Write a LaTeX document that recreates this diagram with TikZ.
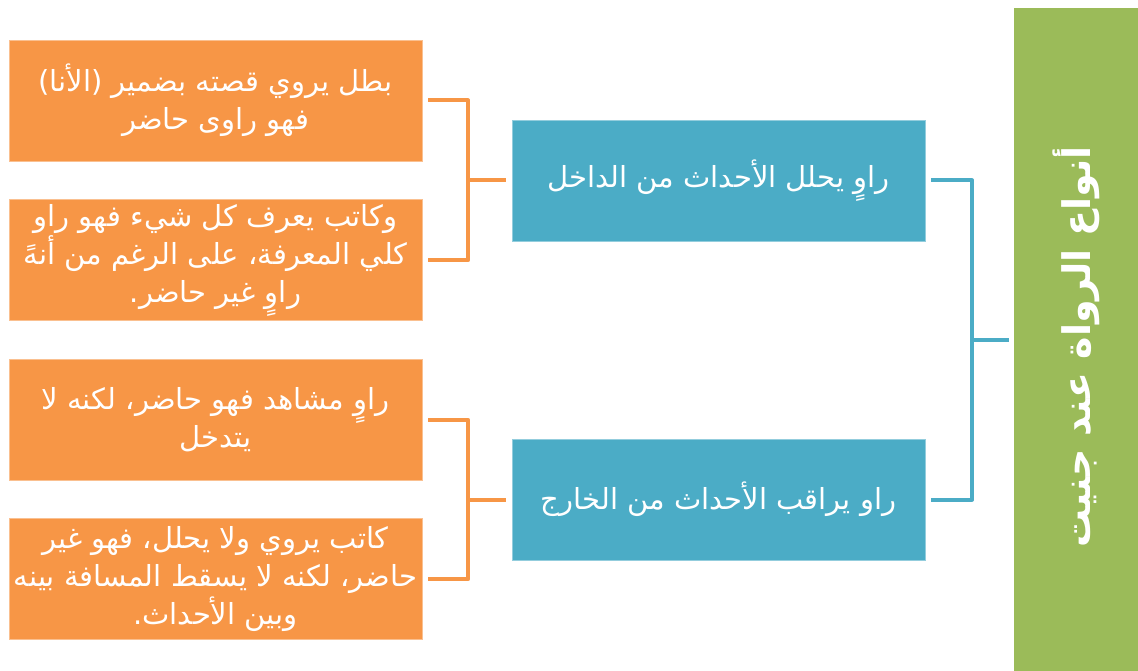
\documentclass[tikz,border=0pt]{standalone}
\usepackage{fontspec}
\newfontfamily\arabicfont[Script=Arabic]{DejaVu Sans}
\TeXXeTstate=1
\definecolor{orgc}{HTML}{F79646}
\definecolor{tealc}{HTML}{4BACC6}
\definecolor{grnc}{HTML}{9BBB59}
\begin{document}
\begin{tikzpicture}[x=1pt,y=-1pt]
\tikzset{
  basebox/.style={minimum width=413pt, minimum height=121pt, inner sep=0pt, text=white, align=center, line width=0.6pt},
  obox/.style={basebox, fill=orgc, draw=orgc!60!white, font=\arabicfont\fontsize{29}{38}\selectfont},
  tbox/.style={basebox, fill=tealc, draw=tealc!60!white, font=\arabicfont\fontsize{29}{38}\selectfont},
  gbox/.style={fill=grnc, draw=grnc, minimum width=124pt, minimum height=663pt, inner sep=0pt},
  oline/.style={draw=orgc, line width=4pt, line join=round},
  tline/.style={draw=tealc, line width=4pt, line join=round},
}
\useasboundingbox (0,0) rectangle (1138,671);
\fill[white] (0,0) rectangle (1138,671);

\node[gbox] (g) at (1076,339.5) {};
\node[text=white, rotate=90, font=\arabicfont\bfseries\fontsize{38}{42}\selectfont] (gt) at (1076,347) {\beginR أنواع الرواة عند جنيت\endR};

\node[tbox] (t1) at (718.5,180.5) {\beginR راوٍ يحلل الأحداث من الداخل\endR};
\node[tbox] (t2) at (718.5,499.5) {\beginR راو يراقب الأحداث من الخارج\endR};

\node[obox] (o1) at (215.5,100.5) {\beginR بطل يروي قصته بضمير (الأنا)\endR\\\beginR فهو راوى حاضر\endR};
\node[obox] (o2) at (215.5,260) {\beginR وكاتب يعرف كل شيء فهو راو\endR\\\beginR كلي المعرفة، على الرغم من أنهً\endR\\\beginR راوٍ غير حاضر.\endR};
\node[obox] (o3) at (215.5,420) {\beginR راوٍ مشاهد فهو حاضر، لكنه لا\endR\\\beginR يتدخل\endR};
\node[obox] (o4) at (215.5,579) {\beginR كاتب يروي ولا يحلل، فهو غير\endR\\\beginR حاضر، لكنه لا يسقط المسافة بينه\endR\\\beginR وبين الأحداث.\endR};

% teal bracket
\draw[tline] ([xshift=6pt]t1.east) -- ++(41,0) |- ([xshift=6pt]t2.east);
\draw[tline] ([xshift=-5pt]g.west) -- ++(-39,0);
% orange brackets
\draw[oline] ([xshift=6pt]o1.east) -- ++(40,0) |- ([xshift=6pt]o2.east);
\draw[oline] ([xshift=-6pt]t1.west) -- ++(-40,0);
\draw[oline] ([xshift=6pt]o3.east) -- ++(40,0) |- ([xshift=6pt]o4.east);
\draw[oline] ([xshift=-6pt]t2.west) -- ++(-40,0);
\end{tikzpicture}
\end{document}
